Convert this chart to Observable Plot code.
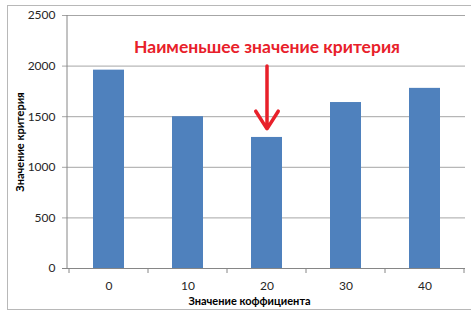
<!DOCTYPE html>
<html><head><meta charset="utf-8">
<script src="https://cdn.jsdelivr.net/npm/d3@7"></script>
<script src="https://cdn.jsdelivr.net/npm/@observablehq/plot@0.6"></script>
<style>
html,body{margin:0;padding:0;background:#fff;}
#wrap{position:relative;width:471px;height:317px;overflow:hidden;}
#frame{position:absolute;left:7px;top:5px;width:480px;height:305px;border:1px solid #b8b8b8;box-sizing:border-box;}
#chart{position:absolute;left:0;top:0;}
</style></head>
<body><div id="wrap"><div id="frame"></div><div id="chart"></div></div>
<script>
const categories = ["0", "10", "20", "30", "40"];
const values = [1960, 1500, 1295, 1640, 1780];
const yTicks = [0, 500, 1000, 1500, 2000, 2500];
const annotationText = ["Наименьшее значение критерия"];
const annotationY = [2185];
const arrowFromY = [2000];
const arrowToY = [1380];
const arrowCategory = ["20"];
const xLabel = "Значение коффициента";
const yLabel = "Значение критерия";

const data = categories.map((c, i) => ({cat: c, value: values[i]}));
const font = "Lato, 'Open Sans', sans-serif";

function axisLines(index, scales, vals, dims) {
  const g = d3.create("svg:g");
  const x = scales.x;
  const bw = x.bandwidth ? x.bandwidth() : 0;
  const step = x.step ? x.step() : bw;
  const y0 = dims.height - dims.marginBottom;
  const left = dims.marginLeft;
  g.append("line").attr("x1", left).attr("x2", left).attr("y1", dims.marginTop).attr("y2", y0)
    .attr("stroke", "#868686");
  const edges = categories.map(c => x(c) + bw / 2 - step / 2);
  edges.push(x(categories[categories.length - 1]) + bw / 2 + step / 2);
  for (const e of edges) {
    g.append("line").attr("x1", e).attr("x2", e).attr("y1", y0).attr("y2", y0 + 5)
      .attr("stroke", "#868686");
  }
  return g.node();
}

const chart = Plot.plot({
  width: 471,
  height: 317,
  marginLeft: 67,
  marginRight: 6,
  marginTop: 15,
  marginBottom: 49,
  style: {fontFamily: font, background: "transparent"},
  x: {domain: categories, paddingInner: 0.61, paddingOuter: 0.305, align: 0.5, label: null},
  y: {domain: [0, 2500], ticks: yTicks, label: null},
  marks: [
    Plot.ruleY(yTicks, {y: d => d, stroke: "#a6a6a6", strokeWidth: 1, insetLeft: -5}),
    Plot.barY(data, {x: "cat", y: "value", fill: "#4f81bd"}),
    Plot.ruleY([0], {stroke: "#868686", insetLeft: -5}),
    axisLines,
    Plot.axisY({ticks: yTicks, tickFormat: d => String(d), tickSize: 0, tickPadding: 12, fontSize: 12, color: "#262626", label: null}),
    Plot.axisX({tickSize: 0, tickPadding: 13, fontSize: 12, color: "#262626", label: null}),
    Plot.text(annotationText, {x: arrowCategory, y: annotationY, text: d => d, fill: "#e8202a", fontSize: 17.5, fontWeight: "bold", fontFamily: font}),
    Plot.arrow(arrowCategory.map((c, i) => ({c, y1: arrowFromY[i], y2: arrowToY[i]})), {x: "c", y1: "y1", y2: "y2", stroke: "#e8202a", strokeWidth: 3.5, headLength: 13, headAngle: 65}),
    Plot.text([yLabel], {frameAnchor: "left", textAnchor: "middle", dx: -47, rotate: -90, text: d => d, fontWeight: "bold", fontSize: 11, fill: "#000", fontFamily: font}),
    Plot.text([xLabel], {frameAnchor: "bottom", textAnchor: "middle", dy: 36, dx: -17, text: d => d, fontWeight: "bold", fontSize: 11, fill: "#000", fontFamily: font})
  ]
});
document.getElementById("chart").appendChild(chart);
</script>
</body></html>
